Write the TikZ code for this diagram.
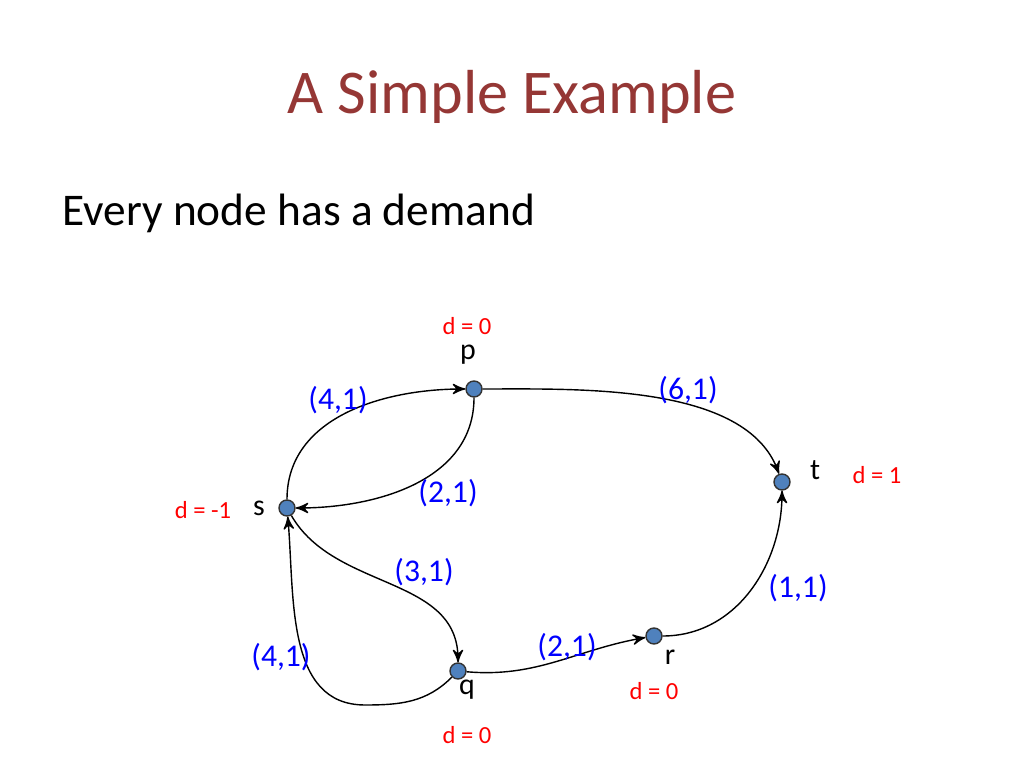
\documentclass[tikz,border=0pt]{standalone}
\usepackage{fontspec}
\setmainfont{Carlito}
\usetikzlibrary{arrows}
\definecolor{titlered}{RGB}{149,55,53}
\definecolor{nodeblue}{RGB}{79,129,189}
\begin{document}
\begin{tikzpicture}[->,>=stealth',x=0.1mm,y=-0.1mm,
		vertex/.style={circle,draw=black!80,fill=nodeblue,inner sep=0pt,minimum size=1.6mm,thin},
		capacity/.style={text=blue,font=\fontsize{9}{10}\selectfont},
		dem/.style={text=red,font=\fontsize{7}{8}\selectfont},
		lbl/.style={font=\fontsize{8.5}{9}\selectfont}]
		\useasboundingbox (0,0) rectangle (1024,768);

		\node[text=titlered,font=\fontsize{17.7}{20}\selectfont] (title) at (512,97) {A Simple Example};
		\node[anchor=west,inner sep=0pt,font=\fontsize{12.9}{14}\selectfont] (intro) at (62,213) {Every node has a demand};

		\node[vertex] (p) at (474,389) {};
		\node[vertex] (t) at (782,482) {};
		\node[vertex] (s) at (287,508) {};
		\node[vertex] (q) at (458,671) {};
		\node[vertex] (r) at (654,636) {};

		\node[lbl] (pl) at (468,355) {p};
		\node[lbl] (tl) at (815,470) {t};
		\node[lbl] (sl) at (259,508) {s};
		\node[lbl] (ql) at (467,690) {q};
		\node[lbl] (rl) at (670,657) {r};

		\node[dem] (pd) at (467,326) {d = 0};
		\node[dem] (td) at (877,475) {d = 1};
		\node[dem] (sd) at (203,510) {d = -1};
		\node[dem] (rd) at (654,691) {d = 0};
		\node[dem] (qd) at (467,735) {d = 0};

		\coordinate (low) at (365,705);

		\draw (s) to[out=90,in=180] (p);
		\draw (p) to[out=-90,in=0] (s);
		\draw (p) to[out=0,in=110,looseness=0.8] (t);
		\draw (s) to[out=-60,in=90] (q);
		\draw (q) to[out=-135,in=0] (low) to[out=180,in=-85] (s);
		\draw (q) to[out=-5,in=190] (r);
		\draw (r) to[out=0,in=-90] (t);

		\node[capacity] (c1) at (338,400) {(4,1)};
		\node[capacity] (c2) at (448,493) {(2,1)};
		\node[capacity] (c3) at (688,390) {(6,1)};
		\node[capacity] (c4) at (424,572) {(3,1)};
		\node[capacity] (c5) at (281,657) {(4,1)};
		\node[capacity] (c6) at (567,647) {(2,1)};
		\node[capacity] (c7) at (798,588) {(1,1)};
\end{tikzpicture}
\end{document}
